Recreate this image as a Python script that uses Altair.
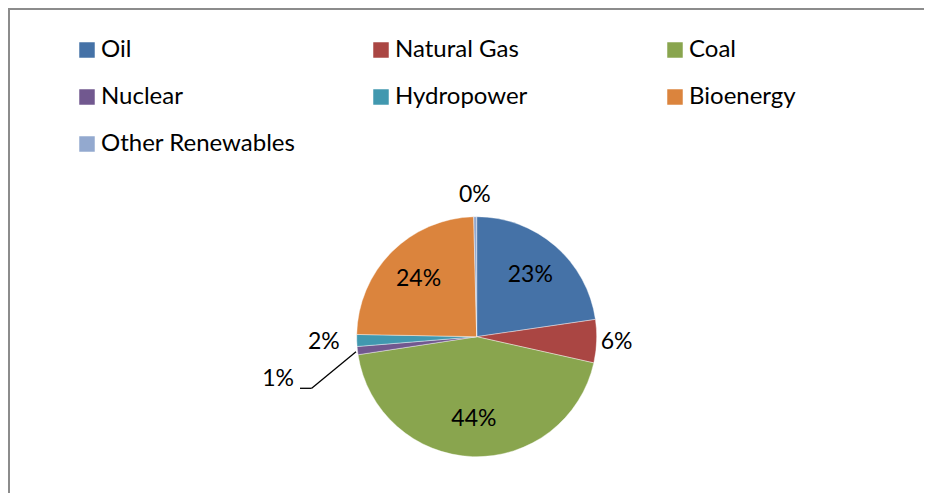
import altair as alt
import pandas as pd

sources = ["Oil", "Natural Gas", "Coal", "Nuclear", "Hydropower", "Bioenergy", "Other Renewables"]
shares = [22.7, 5.8, 44.1, 1.1, 1.6, 24.3, 0.4]
colors = ["#4572A7", "#AA4643", "#89A54E", "#71588F", "#4198AF", "#DB843D", "#93A9CF"]

df = pd.DataFrame({"source": sources, "share": shares, "idx": list(range(len(sources)))})

FONT = "Lato"
CX, CY = 468.7, 328.7
R = 120

base = alt.Chart(df).transform_joinaggregate(
    total="sum(share)"
).transform_calculate(
    pct="format(datum.share / datum.total, '.0%')",
    frac="datum.share / datum.total",
).encode(
    theta=alt.Theta("share:Q", stack=True),
    order=alt.Order("idx:Q"),
)

pie = base.mark_arc(outerRadius=R, stroke="white", strokeWidth=0.4).encode(
    x=alt.value(CX),
    y=alt.value(CY),
    color=alt.Color(
        "source:N",
        sort=sources,
        scale=alt.Scale(domain=sources, range=colors),
        legend=alt.Legend(
            title=None,
            orient="none",
            legendX=67,
            legendY=30,
            direction="horizontal",
            columns=3,
            gridAlign="all",
            symbolType="square",
            symbolSize=240,
            symbolStrokeWidth=0,
            labelFont=FONT,
            labelFontSize=24,
            labelColor="#000000",
            labelOffset=2,
            columnPadding=73,
            rowPadding=23,
            padding=0,
            labelLimit=400,
        ),
    ),
)

def label_layer(cond, radius, dx=0, dy=0):
    return base.transform_calculate(
        lab=f"({cond}) ? datum.pct : ''"
    ).mark_text(
        font=FONT, fontSize=23, color="#000000", align="center", baseline="middle", dx=dx, dy=dy
    ).encode(
        x=alt.value(CX),
        y=alt.value(CY),
        radius=alt.value(radius),
        text="lab:N",
    )

inside = label_layer("datum.frac >= 0.1", 82)
right_small = label_layer("datum.source == 'Natural Gas'", 140)
left_small = label_layer("datum.source == 'Hydropower'", 153)
top_small = label_layer("datum.source == 'Other Renewables'", 142)
nuc = label_layer("datum.source == 'Nuclear'", 204, dx=4, dy=19)

# chart frame (top and left edges) and leader line for the 1% label
top_edge = alt.Chart(df).mark_rule(color="#8c8c8c", strokeWidth=2).encode(
    x=alt.value(0), x2=alt.value(916), y=alt.value(1)
).transform_filter("datum.idx == 0")
left_edge = alt.Chart(df).mark_rule(color="#8c8c8c", strokeWidth=2).encode(
    x=alt.value(1), y=alt.value(0), y2=alt.value(485)
).transform_filter("datum.idx == 0")
lead1 = alt.Chart(df).mark_rule(color="#000000", strokeWidth=1.3).encode(
    x=alt.value(292), x2=alt.value(303.7), y=alt.value(380.3), y2=alt.value(380.3)
).transform_filter("datum.idx == 0")
lead2 = alt.Chart(df).mark_rule(color="#000000", strokeWidth=1.3).encode(
    x=alt.value(303.7), x2=alt.value(348), y=alt.value(380.3), y2=alt.value(343.7)
).transform_filter("datum.idx == 0")

chart = alt.layer(
    pie, inside, right_small, left_small, top_small, nuc, lead1, lead2, top_edge, left_edge
).properties(
    width=916, height=485, padding=0, autosize=alt.AutoSizeParams(type="none")
).configure_view(stroke=None).configure(background="white")

chart.save("out.html", embed_options={"renderer": "svg", "actions": False})
